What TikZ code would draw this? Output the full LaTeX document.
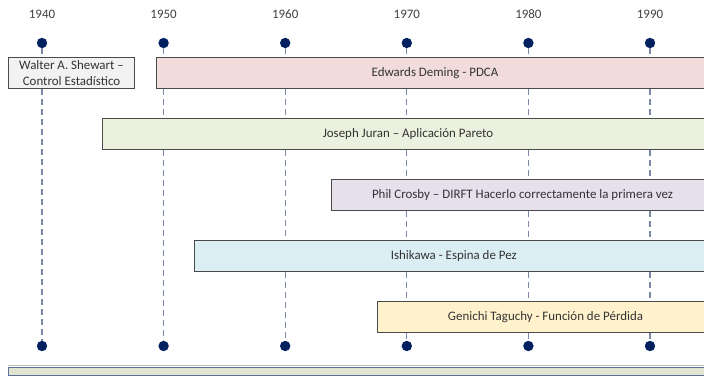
\documentclass[tikz,border=0pt]{standalone}
\usepackage{fontspec}
\setmainfont{Carlito}
\usetikzlibrary{positioning}

\definecolor{navy}{HTML}{002060}
\definecolor{dashgray}{HTML}{7A89A8}
\definecolor{edgegray}{HTML}{4A4A4A}
\definecolor{shewartfill}{HTML}{F2F2F2}
\definecolor{demingfill}{HTML}{F2DCDB}
\definecolor{juranfill}{HTML}{EBF1DE}
\definecolor{crosbyfill}{HTML}{E5E0EC}
\definecolor{ishikawafill}{HTML}{DBEEF4}
\definecolor{taguchyfill}{HTML}{FFF2CC}
\definecolor{barfill}{HTML}{E2E4D2}
\definecolor{barline}{HTML}{5B7199}

\begin{document}
\begin{tikzpicture}[x=0.75pt, y=-0.75pt,
    font=\fontsize{9.7}{11.5}\selectfont,
    yeardot/.style={circle, fill=navy, inner sep=0pt, minimum size=7.8pt},
    guide/.style={dashgray, line width=0.8pt, dash pattern=on 4.5pt off 3pt},
    period/.style={draw=edgegray, line width=0.8pt, anchor=north west,
        inner sep=0pt, minimum height=23.25pt, text=black!80}]
    \useasboundingbox (0,0) rectangle (704,381);
    \clip (0,0) rectangle (704,381);

    % years and dots
    \foreach \yr [count=\i] in {1940,1950,1960,1970,1980,1990} {
        \node[text=black!75] (y\i) at ({42+(\i-1)*121.6},14) {\yr};
        \node[yeardot] (t\i) at ({42+(\i-1)*121.6},43) {};
        \node[yeardot] (b\i) at ({42+(\i-1)*121.6},346) {};
    }

    % periods
    \node[period, fill=shewartfill, minimum width=94.5pt, align=center] (shewart) at (8,57)
        {Walter A. Shewart --\\Control Estad\'istico};
    \node[period, fill=demingfill, minimum width=417.75pt] (deming) at (156,57)
        {Edwards Deming - PDCA};
    \node[period, fill=juranfill, minimum width=458.25pt] (juran) at (102,118)
        {Joseph Juran -- Aplicaci\'on Pareto};
    \node[period, fill=crosbyfill, minimum width=286.5pt] (crosby) at (331,179)
        {Phil Crosby -- DIRFT Hacerlo correctamente la primera vez};
    \node[period, fill=ishikawafill, minimum width=389.6pt] (ishikawa) at (193.5,240)
        {Ishikawa - Espina de Pez};
    \node[period, fill=taguchyfill, minimum width=252pt] (taguchy) at (377,301)
        {Genichi Taguchy - Funci\'on de P\'erdida};

    % dashed guides, only in the gaps between the periods
    \draw[guide] (t1) -- (t1 |- shewart.north) (t1 |- shewart.south) -- (b1);
    \draw[guide] (t2) -- (t2 |- deming.north) (t2 |- deming.south) -- (t2 |- juran.north)
        (t2 |- juran.south) -- (b2);
    \draw[guide] (t3) -- (t3 |- deming.north) (t3 |- deming.south) -- (t3 |- juran.north)
        (t3 |- juran.south) -- (t3 |- ishikawa.north) (t3 |- ishikawa.south) -- (b3);
    \foreach \i in {4,5,6}
        \draw[guide] (t\i) -- (t\i |- deming.north) (t\i |- deming.south) -- (t\i |- juran.north)
            (t\i |- juran.south) -- (t\i |- crosby.north) (t\i |- crosby.south) -- (t\i |- ishikawa.north)
            (t\i |- ishikawa.south) -- (t\i |- taguchy.north) (t\i |- taguchy.south) -- (b\i);

    % base bar
    \node[draw=barline, fill=barfill, line width=0.8pt, anchor=north west, inner sep=0pt,
        minimum width=540pt, minimum height=6pt] (base) at (8,367) {};
    \draw[black!25, line width=0.8pt] ([yshift=1pt]base.north west) -- ([yshift=1pt]base.north east);
\end{tikzpicture}
\end{document}
